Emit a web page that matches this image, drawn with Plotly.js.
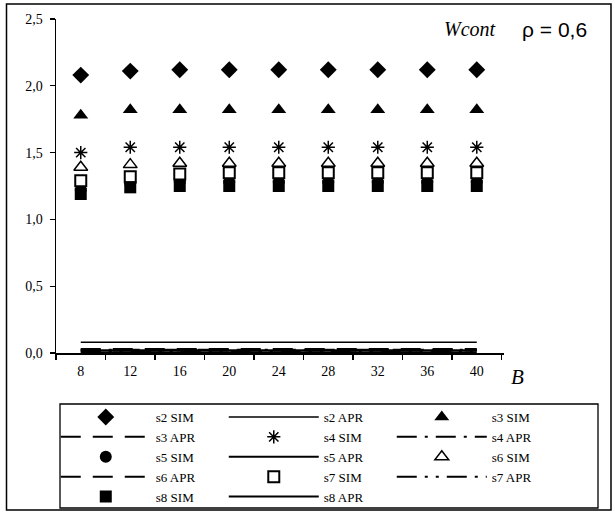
<!DOCTYPE html>
<html>
<head>
<meta charset="utf-8">
<script src="https://cdn.plot.ly/plotly-3.0.1.min.js"></script>
<style>html,body{margin:0;padding:0;background:#fff;}#chart{width:615px;height:512px;}</style>
</head>
<body>
<div id="chart"></div>
<script>
const B = ['8','12','16','20','24','28','32','36','40'];

const s2SIM = [2.08, 2.11, 2.12, 2.12, 2.12, 2.12, 2.12, 2.12, 2.12];
const s3SIM = [1.78, 1.82, 1.82, 1.82, 1.82, 1.82, 1.82, 1.82, 1.82];
const s4SIM = [1.50, 1.54, 1.54, 1.54, 1.54, 1.54, 1.54, 1.54, 1.54];
const s5SIM = [1.22, 1.27, 1.28, 1.28, 1.28, 1.28, 1.28, 1.28, 1.28];
const s6SIM = [1.39, 1.41, 1.42, 1.42, 1.42, 1.42, 1.42, 1.42, 1.42];
const s7SIM = [1.29, 1.32, 1.34, 1.35, 1.35, 1.35, 1.35, 1.35, 1.35];
const s8SIM = [1.19, 1.24, 1.25, 1.25, 1.25, 1.25, 1.25, 1.25, 1.25];

const s2APR = [0.08, 0.08, 0.08, 0.08, 0.08, 0.08, 0.08, 0.08, 0.08];
const s3APR = [0.03, 0.03, 0.03, 0.03, 0.03, 0.03, 0.03, 0.03, 0.03];
const s4APR = [0.025, 0.025, 0.025, 0.025, 0.025, 0.025, 0.025, 0.025, 0.025];
const s5APR = [0.02, 0.02, 0.02, 0.02, 0.02, 0.02, 0.02, 0.02, 0.02];
const s6APR = [0.018, 0.018, 0.018, 0.018, 0.018, 0.018, 0.018, 0.018, 0.018];
const s7APR = [0.012, 0.012, 0.012, 0.012, 0.012, 0.012, 0.012, 0.012, 0.012];
const s8APR = [0.006, 0.006, 0.006, 0.006, 0.006, 0.006, 0.006, 0.006, 0.006];

function sim(name, y, symbol, color, lineColor, lw, size) {
  return {x: B, y: y, name: name, type: 'scatter', mode: 'markers',
    marker: {symbol: symbol, size: size || 12, color: color, line: {color: lineColor, width: lw}}};
}
function apr(name, y, dash, w) {
  return {x: B, y: y, name: name, type: 'scatter', mode: 'lines',
    line: {color: '#000', width: w || 2, dash: dash}};
}

const traces = [
  sim('s2 SIM', s2SIM, 'diamond', '#000', '#000', 0, 13),
  apr('s2 APR', s2APR, 'solid', 1.5),
  sim('s3 SIM', s3SIM, 'triangle-up', '#000', '#000', 0, 13),
  apr('s3 APR', s3APR, '20px,12px'),
  sim('s4 SIM', s4SIM, 'asterisk-open', '#000', '#000', 1.5, 11),
  apr('s4 APR', s4APR, '20px,8px,3px,8px'),
  sim('s5 SIM', s5SIM, 'circle', '#000', '#000', 0, 12),
  apr('s5 APR', s5APR, 'solid'),
  sim('s6 SIM', s6SIM, 'triangle-up', '#fff', '#000', 1.5, 12),
  apr('s6 APR', s6APR, '20px,12px'),
  sim('s7 SIM', s7SIM, 'square', '#fff', '#000', 2, 11),
  apr('s7 APR', s7APR, '20px,8px,3px,8px,3px,8px'),
  sim('s8 SIM', s8SIM, 'square', '#000', '#000', 0, 12),
  apr('s8 APR', s8APR, 'solid')
];

const W = 448, H = 334, L = 56, T = 19;
function px(x) { return (x - L) / W; }
function py(y) { return (T + H - y) / H; }

const SERIF = 'Liberation Serif, Times New Roman, serif';

const layout = {
  width: 615, height: 512,
  margin: {l: 56, r: 111, t: 19, b: 159, autoexpand: false},
  paper_bgcolor: '#fff', plot_bgcolor: '#fff',
  showlegend: true,
  font: {family: SERIF, color: '#000', size: 13},
  xaxis: {
    type: 'category', range: [-0.5, 8.55], showgrid: false, zeroline: false,
    showline: true, linecolor: '#000', linewidth: 1.5,
    ticks: 'outside', tickson: 'boundaries', ticklen: 5, tickcolor: '#000', tickwidth: 1.2,
    ticklabelstandoff: 5,
    tickfont: {family: SERIF, size: 14, color: '#000'},
    fixedrange: true
  },
  yaxis: {
    range: [0, 2.5], dtick: 0.5, tickformat: '.1f',
    showgrid: false, zeroline: false,
    showline: true, linecolor: '#000', linewidth: 1.5,
    ticks: 'outside', ticklen: 5, tickcolor: '#000', tickwidth: 1.2,
    ticklabelstandoff: 4,
    tickfont: {family: SERIF, size: 14, color: '#000'},
    fixedrange: true
  },
  separators: ', ',
  legend: {
    orientation: 'h', x: -0.0005, y: py(402), xanchor: 'left', yanchor: 'top',
    entrywidth: 63, entrywidthmode: 'pixels', itemwidth: 90,
    borderwidth: 0, bgcolor: 'rgba(0,0,0,0)',
    font: {family: SERIF, size: 13, color: '#000'},
    tracegroupgap: 0, traceorder: 'normal'
  },
  annotations: [
    {xref: 'paper', yref: 'paper', x: px(517), y: py(377), text: '<i>B</i>', showarrow: false,
     font: {family: SERIF, size: 21, color: '#000'}, xanchor: 'center', yanchor: 'middle'},
    {xref: 'paper', yref: 'paper', x: px(498), y: py(29), text: '<i>Wcont</i>', showarrow: false,
     font: {family: SERIF, size: 20, color: '#000'}, xanchor: 'right', yanchor: 'middle'},
    {xref: 'paper', yref: 'paper', x: px(520), y: py(29), text: 'ρ = 0,6', showarrow: false,
     font: {family: 'Liberation Sans, Arial, sans-serif', size: 21, color: '#000'}, xanchor: 'left', yanchor: 'middle'}
  ],
  shapes: [
    {type: 'rect', xref: 'paper', yref: 'paper', x0: px(6.5), x1: px(611), y0: py(510), y1: py(4),
     line: {color: '#000', width: 1.5}, fillcolor: 'rgba(0,0,0,0)', layer: 'below'},
    {type: 'rect', xref: 'paper', yref: 'paper', x0: px(60), x1: px(598), y0: py(508), y1: py(404),
     line: {color: '#000', width: 1.3}, fillcolor: 'rgba(0,0,0,0)', layer: 'below'}
  ]
};

Plotly.newPlot('chart', traces, layout, {staticPlot: true, displayModeBar: false});
</script>
</body>
</html>
